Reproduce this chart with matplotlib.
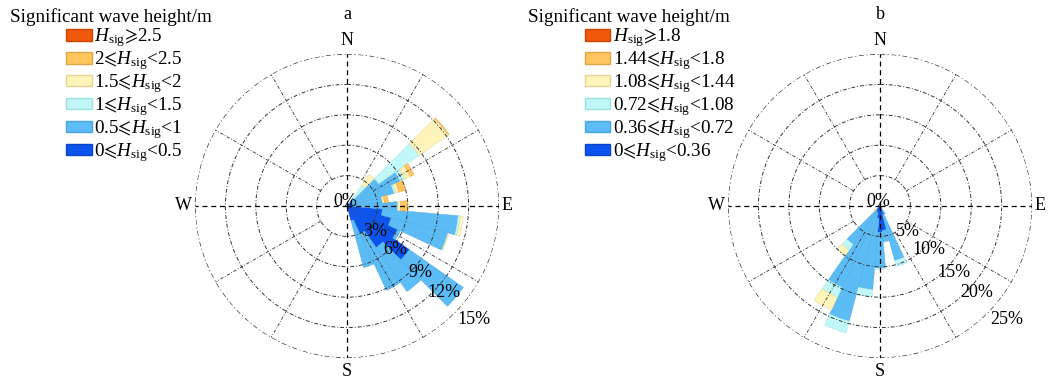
import numpy as np
import matplotlib
matplotlib.use("Agg")
import matplotlib.pyplot as plt
from matplotlib.patches import Patch

plt.rcParams['font.family'] = ['Liberation Serif', 'DejaVu Serif']
plt.rcParams['mathtext.fontset'] = 'custom'
plt.rcParams['mathtext.rm'] = 'Liberation Serif'
plt.rcParams['mathtext.it'] = 'Liberation Serif:italic'
plt.rcParams['mathtext.fallback'] = 'stix'

# direction bins (deg, clockwise from N) and frequency (%) per wave height class
a_dirs = [40, 50, 60, 70, 80, 90, 100, 110, 120, 130, 140, 150, 160]
a_c0 = [0.3, 0.5, 0.5, 0.5, 0.5, 0.5, 3.5, 4.5, 5.5, 7.5, 5.0, 3.0, 1.5]
a_c1 = [0.7, 3.3, 5.3, 4.3, 3.0, 4.5, 7.5, 5.8, 0.3, 6.5, 5.3, 6.2, 4.8]
a_c2 = [1.5, 4.9, 0.5, 0.2, 0.0, 0.0, 0.2, 0.0, 0.0, 0.0, 0.0, 0.0, 0.0]
a_c3 = [1.3, 3.5, 0.6, 0.3, 0.2, 0.3, 0.3, 0.1, 0.0, 0.0, 0.0, 0.0, 0.0]
a_c4 = [0.0, 0.1, 0.4, 0.7, 0.4, 0.7, 0.0, 0.0, 0.0, 0.0, 0.0, 0.0, 0.0]
a_c5 = [0.0, 0.0, 0.0, 0.0, 0.0, 0.0, 0.0, 0.0, 0.0, 0.0, 0.0, 0.0, 0.0]
a_labels = ['0$⩽H_{\\rm sig}$<0.5', '0.5$⩽H_{\\rm sig}$<1', '1$⩽H_{\\rm sig}$<1.5',
            '1.5$⩽H_{\\rm sig}$<2', '2$⩽H_{\\rm sig}$<2.5', '$H_{\\rm sig}⩾$2.5']
a_rings = [3, 6, 9, 12, 15]

b_dirs = [150, 160, 170, 180, 190, 200, 210, 220, 230]
b_c0 = [0.5, 1.5, 4.0, 4.3, 2.0, 1.2, 1.0, 0.8, 0.3]
b_c1 = [1.0, 7.8, 1.9, 5.9, 11.8, 18.4, 13.8, 6.9, 0.4]
b_c2 = [0.0, 1.0, 0.0, 0.2, 1.2, 2.0, 1.8, 1.2, 0.0]
b_c3 = [0.0, 0.0, 0.0, 0.0, 0.0, 0.0, 2.3, 1.1, 0.3]
b_c4 = [0.0, 0.0, 0.0, 0.0, 0.0, 0.0, 0.0, 0.0, 0.15]
b_c5 = [0.0, 0.0, 0.0, 0.0, 0.0, 0.0, 0.0, 0.0, 0.0]
b_labels = ['0$⩽H_{\\rm sig}$<0.36', '0.36$⩽H_{\\rm sig}$<0.72', '0.72$⩽H_{\\rm sig}$<1.08',
            '1.08$⩽H_{\\rm sig}$<1.44', '1.44$⩽H_{\\rm sig}$<1.8', '$H_{\\rm sig}⩾$1.8']
b_rings = [5, 10, 15, 20, 25]

colors = ['#0B55EE', '#5CBCF6', '#C2F7F7', '#FFF4BA', '#FFC55E', '#F0580C']
edges = ['#0A45C8', '#4AA6E0', '#9EE0E0', '#E2D494', '#E0A544', '#C84800']


def rose(ax, dirs, classes, rings):
    rmax = rings[-1]
    th = np.deg2rad(dirs)
    bottom = np.zeros(len(dirs))
    for k, vals in enumerate(classes):
        vals = np.array(vals)
        m = vals > 0
        ax.bar(th[m], vals[m], width=np.deg2rad(10), bottom=bottom[m], color=colors[k],
               edgecolor=edges[k], linewidth=0.3, zorder=2)
        bottom = bottom + vals
    t = np.linspace(0, 2 * np.pi, 400)
    for r in rings:
        outer = r == rmax
        ax.plot(t, np.full_like(t, r), color='#222222' if outer else '#333333',
                lw=0.9 if outer else 0.7, ls=(0, (4, 2, 1, 2)), zorder=3)
    for d in range(30, 360, 30):
        if d % 90:
            ax.plot([np.deg2rad(d)] * 2, [rings[0], rmax], color='#333333', lw=0.6,
                    ls=(0, (4, 2, 1, 2)), zorder=3)
    for d in [0, 90, 180, 270]:
        ax.plot([np.deg2rad(d)] * 2, [0, rmax], color='black', lw=0.9,
                ls=(0, (4, 3)), zorder=3)
    for d, s, f in zip([0, 90, 180, 270], ['N', 'E', 'S', 'W'], [1.09, 1.055, 1.09, 1.075]):
        ax.text(np.deg2rad(d), rmax * f, s, ha='center', va='center', fontsize=13)
    ax.annotate('0%', (0, 0), xytext=(-2, 4), textcoords='offset pixels',
                ha='center', va='center', fontsize=13, zorder=4)
    for r, f in zip(rings, [0.25, 0.43, 0.65, 0.855, 1.12]):
        ax.text(np.deg2rad(132), rmax * f, '%d%%' % r, ha='center', va='center',
                fontsize=13, zorder=4)
    ax.set_theta_zero_location('N')
    ax.set_theta_direction(-1)
    ax.set_ylim(0, rmax)
    ax.set_axis_off()


fig = plt.figure(figsize=(10.48, 3.80), dpi=100)
ax1 = fig.add_axes([0.1861, 0.0579, 0.2901, 0.8], projection='polar')
ax2 = fig.add_axes([0.6947, 0.0579, 0.2901, 0.8], projection='polar')

rose(ax1, a_dirs, [a_c0, a_c1, a_c2, a_c3, a_c4, a_c5], a_rings)
rose(ax2, b_dirs, [b_c0, b_c1, b_c2, b_c3, b_c4, b_c5], b_rings)

fig.text(0.331, 0.963, 'a', ha='center', va='center', fontsize=13)
fig.text(0.840, 0.963, 'b', ha='center', va='center', fontsize=13)

for lx, tx, labels in [(0.063, 0.0095, a_labels), (0.558, 0.504, b_labels)]:
    fig.text(tx, 0.955, 'Significant wave height/m', ha='left', va='center', fontsize=13.8)
    handles = [Patch(facecolor=colors[k], edgecolor=edges[k], lw=1.0) for k in range(6)]
    fig.legend(handles[::-1], labels[::-1], loc='upper left', bbox_to_anchor=(lx, 0.93),
               frameon=False, fontsize=13.8, handlelength=1.33, handleheight=0.53,
               handletextpad=0.15, labelspacing=0.0, borderpad=0, borderaxespad=0)

fig.savefig('out.png', dpi=100)
